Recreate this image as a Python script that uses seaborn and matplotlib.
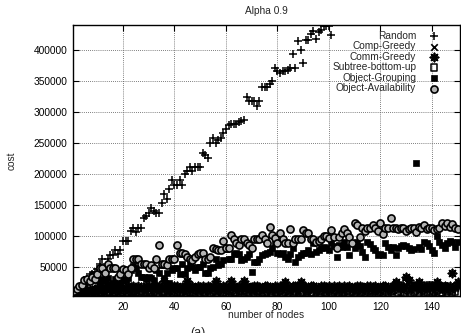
import numpy as np
import pandas as pd
import seaborn as sns
import matplotlib.pyplot as plt

# costs are given in thousands, one value per number of nodes
nodes = list(range(1, 151))

random_cost = [
    4, 6, 9, 12, 20, 33, 30, 38, 42, 46,
    55, 62, 50, 63, 69, 69, 77, 70, 76, 92,
    92, 92, 107, 113, 106, 113, 113, 129, 131, 137,
    144, 140, 136, 137, 152, 167, 159, 175, 190, 182,
    182, 190, 182, 199, 205, 211, 204, 210, 211, 211,
    234, 230, 226, 250, 257, 249, 255, 257, 265, 272,
    278, 280, 280, 280, 283, 285, 287, 324, 317, 317,
    317, 310, 318, 340, 340, 340, 345, 349, 370, 366,
    362, 366, 366, 368, 370, 393, 370, 414, 400, 378,
    416, 416, 425, 430, 417, 428, 432, 438, 438, 438,
    424,
]

comp_greedy = [
    3, 4, 4, 5, 6, 5, 7, 6, 8, 7,
    9, 6, 8, 10, 7, 9, 11, 8, 10, 12,
    9, 11, 8, 12, 10, 9, 13, 11, 10, 12,
    9, 13, 11, 10, 12, 14, 9, 11, 13, 10,
    12, 14, 11, 9, 13, 12, 10, 14, 11, 13,
    10, 12, 15, 11, 13, 9, 12, 14, 10, 13,
    11, 15, 12, 10, 14, 12, 13, 11, 15, 10,
    13, 12, 14, 11, 10, 15, 12, 13, 11, 14,
    12, 10, 15, 13, 11, 14, 12, 10, 13, 15,
    11, 14, 12, 13, 10, 15, 12, 11, 14, 13,
    12, 15, 11, 13, 14, 10, 12, 15, 13, 11,
    14, 12, 10, 15, 13, 12, 11, 14, 13, 10,
    15, 12, 14, 11, 13, 22, 12, 15, 11, 20,
    13, 12, 14, 21, 11, 15, 13, 12, 18, 14,
    11, 19, 13, 12, 15, 11, 14, 13, 16, 18,
]

comm_greedy = [
    6, 7, 8, 9, 10, 12, 13, 12, 14, 15,
    14, 16, 15, 17, 16, 18, 15, 17, 19, 26,
    16, 18, 17, 19, 16, 18, 17, 15, 19, 18,
    16, 17, 19, 18, 17, 26, 16, 18, 17, 19,
    18, 16, 17, 19, 26, 17, 18, 16, 19, 17,
    18, 16, 19, 17, 18, 26, 17, 16, 18, 19,
    17, 26, 18, 16, 19, 17, 26, 18, 16, 17,
    19, 18, 17, 16, 18, 19, 17, 16, 18, 17,
    19, 18, 25, 17, 16, 18, 19, 17, 25, 18,
    16, 17, 19, 18, 17, 16, 18, 19, 17, 18,
    16, 19, 17, 18, 16, 19, 17, 18, 16, 17,
    19, 18, 17, 16, 18, 19, 17, 18, 16, 17,
    19, 18, 17, 16, 18, 25, 17, 19, 16, 34,
    28, 17, 18, 19, 25, 16, 18, 17, 19, 18,
    17, 25, 18, 16, 19, 17, 18, 39, 17, 25,
]

subtree_bottom_up = [
    3, 3, 4, 4, 5, 4, 5, 6, 5, 6,
    7, 5, 6, 7, 6, 8, 7, 6, 8, 7,
    8, 6, 7, 9, 7, 8, 6, 9, 7, 8,
    7, 9, 8, 6, 9, 7, 8, 10, 7, 9,
    8, 7, 9, 10, 8, 7, 9, 8, 10, 7,
    9, 8, 10, 7, 9, 8, 10, 9, 7, 8,
    10, 9, 8, 7, 9, 10, 8, 9, 7, 10,
    8, 9, 10, 7, 8, 9, 10, 8, 9, 7,
    10, 8, 9, 7, 10, 8, 9, 10, 7, 8,
    9, 10, 8, 7, 9, 10, 8, 9, 7, 10,
    8, 9, 10, 7, 8, 9, 10, 8, 9, 7,
    10, 8, 9, 7, 10, 8, 9, 10, 8, 9,
    7, 10, 8, 9, 10, 20, 8, 9, 7, 26,
    10, 8, 9, 18, 7, 10, 8, 9, 20, 8,
    9, 10, 8, 7, 18, 9, 10, 8, 9, 19,
]

object_grouping = [
    8, 12, 15, 18, 22, 25, 30, 38, 35, 28,
    25, 30, 27, 32, 22, 24, 30, 28, 37, 30,
    28, 31, 45, 51, 48, 39, 34, 34, 30, 34,
    32, 28, 45, 39, 52, 31, 40, 23, 44, 48,
    48, 38, 55, 38, 47, 55, 50, 45, 50, 50,
    55, 40, 39, 48, 50, 63, 52, 55, 60, 78,
    62, 63, 71, 72, 71, 60, 63, 66, 71, 42,
    58, 58, 63, 68, 71, 72, 74, 80, 88, 72,
    71, 72, 66, 63, 70, 80, 58, 66, 68, 72,
    72, 77, 70, 88, 74, 76, 80, 82, 80, 77,
    88, 84, 66, 85, 82, 90, 82, 69, 88, 80,
    90, 84, 74, 66, 90, 86, 80, 76, 69, 70,
    69, 88, 82, 76, 82, 69, 80, 84, 85, 84,
    80, 76, 78, 217, 82, 78, 90, 88, 84, 77,
    72, 99, 90, 85, 80, 88, 92, 90, 82, 90,
]

object_availability = [
    10, 14, 18, 20, 28, 30, 26, 34, 30, 38,
    47, 47, 40, 55, 47, 47, 47, 33, 38, 46,
    45, 38, 48, 62, 62, 62, 55, 55, 55, 47,
    52, 48, 62, 85, 55, 55, 52, 63, 63, 63,
    85, 72, 72, 70, 65, 62, 60, 66, 70, 72,
    72, 62, 62, 66, 80, 78, 77, 76, 92, 80,
    80, 101, 95, 88, 85, 94, 94, 88, 85, 80,
    94, 94, 94, 101, 94, 88, 114, 101, 96, 88,
    104, 94, 88, 88, 110, 88, 94, 94, 94, 109,
    104, 104, 94, 94, 90, 92, 95, 99, 99, 96,
    109, 97, 80, 98, 105, 110, 104, 97, 88, 121,
    117, 98, 113, 108, 113, 113, 117, 113, 108, 121,
    102, 113, 113, 128, 113, 113, 110, 113, 113, 108,
    110, 112, 113, 106, 114, 113, 117, 110, 113, 113,
    109, 110, 112, 121, 116, 120, 114, 118, 112, 110,
]

series = [
    ("Random", nodes[:len(random_cost)], random_cost),
    ("Comp-Greedy", nodes, comp_greedy),
    ("Comm-Greedy", nodes, comm_greedy),
    ("Subtree-bottom-up", nodes, subtree_bottom_up),
    ("Object-Grouping", nodes, object_grouping),
    ("Object-Availability", nodes, object_availability),
]

styles = {
    "Random": dict(marker="+", s=36, linewidth=1.1, color="black"),
    "Comp-Greedy": dict(marker="x", s=22, linewidth=1.2, color="black"),
    "Comm-Greedy": dict(marker=(8, 2, 0), s=34, linewidth=1.3, color="black"),
    "Subtree-bottom-up": dict(marker="s", s=20, facecolor="none", edgecolor="black", linewidth=1.1),
    "Object-Grouping": dict(marker="s", s=24, color="black", edgecolor="black", linewidth=0.5),
    "Object-Availability": dict(marker="o", s=26, facecolor="#b4b4b4", edgecolor="black", linewidth=1.2),
}

sns.set_style("ticks")
plt.rcParams["font.family"] = ["Liberation Sans", "DejaVu Sans"]
fs = 7.3

fig = plt.figure(figsize=(4.61, 3.33), dpi=100)
ax = fig.add_axes([0.158, 0.111, 0.840, 0.814])

for name, x, y in series:
    df = pd.DataFrame({"nodes": x, "cost": np.array(y) * 1000})
    sns.scatterplot(data=df, x="nodes", y="cost", ax=ax, label=name, **styles[name])

ax.set_xlim(0.5, 151)
ax.set_ylim(2500, 440000)
ax.set_xticks([20, 40, 60, 80, 100, 120, 140])
ax.set_yticks([50000, 100000, 150000, 200000, 250000, 300000, 350000, 400000])
ax.tick_params(direction="in", top=True, right=True, length=4, width=0.8,
               labelsize=fs, pad=4, colors="black")
ax.grid(True, linestyle=(0, (1, 1.5)), color="#555555", linewidth=0.6)
for sp in ax.spines.values():
    sp.set_linewidth(1.0)
    sp.set_color("black")

ax.set_title("Alpha 0.9", fontsize=fs, pad=8)
ax.set_xlabel("number of nodes", fontsize=fs, labelpad=-1)
ax.set_ylabel("cost", fontsize=fs, labelpad=12)

leg = ax.legend(loc="upper right", bbox_to_anchor=(0.965, 1.005), frameon=False,
                markerfirst=False, fontsize=fs, handletextpad=1.3,
                labelspacing=0.05, borderpad=0.2, handlelength=1.0)
leg._legend_handle_box.get_children()[0].align = "right"

fig.text(0.43, 0.0, "(a)", fontsize=9, va="center", ha="center")

fig.savefig("out.png", dpi=100)
